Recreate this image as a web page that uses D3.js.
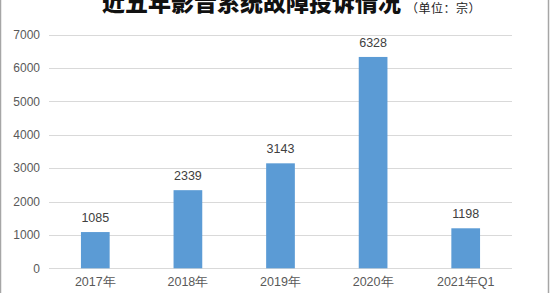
<!DOCTYPE html>
<html>
<head>
<meta charset="utf-8">
<script src="https://cdn.jsdelivr.net/npm/d3@7"></script>
<style>
  body { margin: 0; background: #fff; }
  svg { display: block; }
</style>
</head>
<body>
<div class="chart"></div>
<script>
var width = 550;
var height = 293;

var categories = ["2017年", "2018年", "2019年", "2020年", "2021年Q1"]
var values = [1085, 2339, 3143, 6328, 1198]
var yTicks = [0, 1000, 2000, 3000, 4000, 5000, 6000, 7000]

var plotLeft = 49, plotRight = 512, plotTop = 34.5, plotBottom = 268.3

var svg = d3.select("div.chart").append("svg")
    .attr("width", width)
    .attr("height", height)
    .style("font-family", "Arial, 'Liberation Sans', 'Noto Sans CJK SC', sans-serif");

// frame
svg.append("rect")
    .attr("x", 0.5).attr("y", -2)
    .attr("width", 548).attr("height", height + 4)
    .attr("fill", "none")
    .attr("stroke", "#a6a6a6")
    .attr("stroke-width", 1.5);

var x = d3.scaleBand().domain(categories).range([plotLeft, plotRight]).paddingInner(0.69).paddingOuter(0.345)
var y = d3.scaleLinear().domain([0, 7000]).range([plotBottom, plotTop])

// gridlines
svg.selectAll("line.grid").data(yTicks).enter()
    .append("line")
    .attr("class", "grid")
    .attr("x1", plotLeft).attr("x2", plotRight)
    .attr("y1", function(d){ return Math.round(y(d)) + 0.5 })
    .attr("y2", function(d){ return Math.round(y(d)) + 0.5 })
    .attr("stroke", "#d9d9d9")
    .attr("stroke-width", 1);

// y axis labels
var yAxis = d3.axisLeft(y).tickValues(yTicks).tickSize(0).tickPadding(9).tickFormat(d3.format("d"))
var ya = svg.append("g").attr("transform", "translate(" + plotLeft + ",0)").call(yAxis)
ya.select(".domain").remove()
ya.selectAll("text").attr("fill", "#595959").style("font-size", "12px")

// x axis labels
var xAxis = d3.axisBottom(x).tickSize(0).tickPadding(9)
var xa = svg.append("g").attr("transform", "translate(0," + plotBottom + ")").call(xAxis)
xa.select(".domain").remove()
xa.selectAll("text").attr("fill", "#595959").style("font-size", "12.5px")

// bars
svg.selectAll("rect.bar").data(values).enter()
    .append("rect")
    .attr("class", "bar")
    .attr("x", function(d, i){ return x(categories[i]) })
    .attr("width", x.bandwidth())
    .attr("y", function(d){ return y(d) })
    .attr("height", function(d){ return y(0) - y(d) })
    .attr("fill", "#5b9bd5");

// value labels
svg.selectAll("text.val").data(values).enter()
    .append("text")
    .attr("class", "val")
    .attr("x", function(d, i){ return x(categories[i]) + x.bandwidth() / 2 })
    .attr("y", function(d){ return y(d) - 10 })
    .attr("text-anchor", "middle")
    .attr("fill", "#404040")
    .style("font-size", "12.5px")
    .text(function(d){ return d });

// title (top is cropped in the original)
svg.append("text")
    .attr("x", 102)
    .attr("y", 11)
    .attr("fill", "#111")
    .style("font-family", "'Noto Sans CJK SC', sans-serif")
    .style("font-weight", "900")
    .style("font-size", "23px")
    .text("近五年影音系统故障投诉情况");

svg.append("text")
    .attr("x", 406)
    .attr("y", 13)
    .attr("fill", "#222")
    .style("font-family", "'Noto Sans CJK SC', sans-serif")
    .style("font-size", "12px")
    .style("letter-spacing", "0.5px")
    .text("（单位：宗）");
</script>
</body>
</html>
